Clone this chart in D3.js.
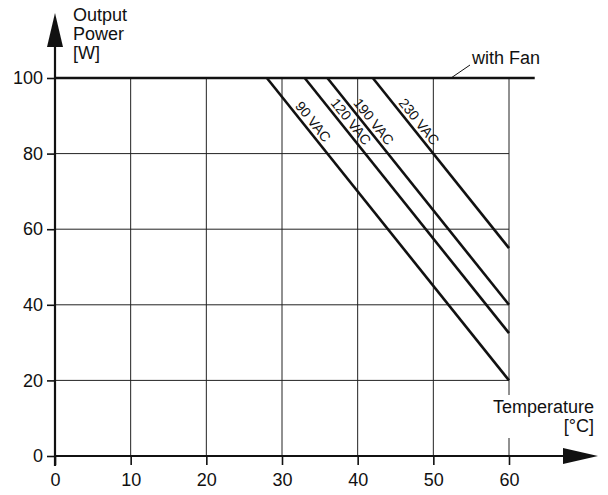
<!DOCTYPE html>
<html>
<head>
    <title>derating chart</title>
    <script type="text/javascript" src="https://cdn.jsdelivr.net/npm/d3@7"></script>
    <style type="text/css">
        body {
            margin: 0;
            background-color: #fff;
        }
        svg text {
            font-family: "Liberation Sans", Arial, Helvetica, sans-serif;
            fill: #111;
        }
        .grid line {
            stroke: #222;
            stroke-width: 1px;
        }
        .curve {
            stroke: #111;
            stroke-width: 2.6px;
            fill: none;
        }
    </style>
</head>

<body>
    <svg id="chart" width="608" height="495"></svg>
</body>

<script type="text/javascript">
    // tick values
    const temps = [0, 10, 20, 30, 40, 50, 60];
    const powerTicks = [0, 20, 40, 60, 80, 100];

    // derating curves: flat at full power until start temp, then falling to end power at 60 °C
    const seriesNames = ["90 VAC", "120 VAC", "190 VAC", "230 VAC"];
    const startTemps = [28, 33, 36, 42];
    const endPowers = [20, 32.5, 40, 55];
    const fullPower = 100;
    const endTemp = 60;
    const fanEndTemp = 63.4;
    const labelPower = 87;

    const svg = d3.select("#chart");
    const x = d3.scaleLinear().domain([0, 60]).range([55, 509]);
    const y = d3.scaleLinear().domain([0, 100]).range([456, 78]);

    // grid
    const grid = svg.append("g").attr("class", "grid");
    grid.selectAll(".v").data(temps.slice(1)).enter().append("line")
        .attr("x1", d => x(d)).attr("x2", d => x(d))
        .attr("y1", y(0)).attr("y2", y(100));
    grid.selectAll(".h").data(powerTicks.slice(1, -1)).enter().append("line")
        .attr("x1", x(0)).attr("x2", x(60))
        .attr("y1", d => y(d)).attr("y2", d => y(d));

    // x-axis title, white behind it so the 60 gridline is cut
    const xt = svg.append("g");
    const xtRect = xt.append("rect").attr("fill", "#fff");
    xt.append("text").attr("x", 594).attr("y", 413).attr("text-anchor", "end")
        .attr("font-size", 18).text("Temperature");
    xt.append("text").attr("x", 594).attr("y", 432).attr("text-anchor", "end")
        .attr("font-size", 18).text("[°C]");
    const bb = xt.node().getBBox();
    xtRect.attr("x", bb.x - 2).attr("y", bb.y - 2).attr("width", bb.width + 4).attr("height", bb.height + 4);

    // axes
    const xAxis = svg.append("g").attr("transform", "translate(0," + y(0) + ")")
        .call(d3.axisBottom(x).tickValues(temps).tickSize(9).tickPadding(8));
    const yAxis = svg.append("g").attr("transform", "translate(" + x(0) + ",0)")
        .call(d3.axisLeft(y).tickValues(powerTicks).tickSize(8).tickPadding(4));
    [xAxis, yAxis].forEach(a => {
        a.select(".domain").remove();
        a.selectAll("line").attr("stroke", "#111").attr("stroke-width", 1.6);
        a.selectAll("text").attr("font-size", 18).attr("fill", "#111")
            .attr("font-family", "Liberation Sans, Arial, sans-serif");
    });

    // axis lines with arrows
    const xEnd = x(60) + 89;
    const yEnd = y(100) - 65;
    svg.append("line").attr("x1", x(0)).attr("x2", xEnd - 30)
        .attr("y1", y(0)).attr("y2", y(0)).attr("stroke", "#111").attr("stroke-width", 2.2);
    svg.append("path").attr("fill", "#111")
        .attr("d", `M${xEnd},${y(0)} L${xEnd - 35},${y(0) - 8} L${xEnd - 35},${y(0) + 8} Z`);
    svg.append("line").attr("x1", x(0)).attr("x2", x(0))
        .attr("y1", y(0) + 10).attr("y2", yEnd + 30).attr("stroke", "#111").attr("stroke-width", 2.2);
    svg.append("path").attr("fill", "#111")
        .attr("d", `M${x(0)},${yEnd} L${x(0) - 8},${yEnd + 34} L${x(0) + 8},${yEnd + 34} Z`);

    // y-axis title
    ["Output", "Power", "[W]"].forEach((t, i) => {
        svg.append("text").attr("x", 73).attr("y", 21 + i * 19)
            .attr("font-size", 18).text(t);
    });

    // with-fan line at full power
    const line = d3.line().x(d => x(d[0])).y(d => y(d[1]));
    svg.append("path").attr("class", "curve").attr("d", line([[0, fullPower], [fanEndTemp, fullPower]]));
    svg.append("line").attr("x1", 451).attr("y1", y(fullPower)).attr("x2", 470).attr("y2", 65)
        .attr("stroke", "#111").attr("stroke-width", 1);
    svg.append("text").attr("x", 472).attr("y", 64).attr("font-size", 18).text("with Fan");

    // derating curves and their labels
    seriesNames.forEach((name, i) => {
        const pts = [[startTemps[i], fullPower], [endTemp, endPowers[i]]];
        svg.append("path").attr("class", "curve").attr("d", line(pts));
        const slope = (fullPower - endPowers[i]) / (endTemp - startTemps[i]);
        const t = startTemps[i] + (fullPower - labelPower) / slope;
        const ang = Math.atan2(y(pts[1][1]) - y(pts[0][1]), x(pts[1][0]) - x(pts[0][0])) * 180 / Math.PI;
        svg.append("text")
            .attr("transform", `translate(${x(t)},${y(labelPower)}) rotate(${ang})`)
            .attr("text-anchor", "middle").attr("dy", -4)
            .attr("font-size", 14).text(name);
    });
</script>

</html>
